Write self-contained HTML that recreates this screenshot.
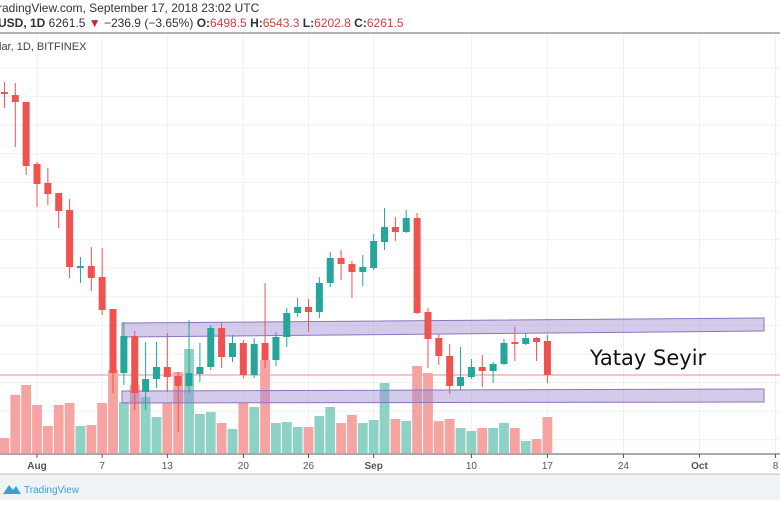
<!DOCTYPE html>
<html><head><meta charset="utf-8"><style>
body{margin:0;width:780px;height:500px;overflow:hidden;background:#fff;font-family:"Liberation Sans",sans-serif}
</style></head><body>
<svg id="c" width="780" height="500" xmlns="http://www.w3.org/2000/svg">
<rect x="0" y="0" width="780" height="500" fill="#fff"/>
<g id="grid"></g>
<line x1="0" y1="375" x2="780" y2="375" stroke="#f28a8a" stroke-width="1"/>
<g id="vol"></g>
<polygon points="122,323 764,318 764,331 122,337" fill="rgba(160,140,210,0.45)" stroke="#8c74bf" stroke-width="1"/>
<polygon points="122,391 764,389 764,402 122,403" fill="rgba(160,140,210,0.45)" stroke="#8c74bf" stroke-width="1"/>
<g id="candles"></g>
<text x="590" y="365" font-size="21" fill="#111" font-family="'DejaVu Sans','Liberation Sans',sans-serif">Yatay Seyir</text>
<rect x="0" y="0" width="780" height="32" fill="#fff"/>
<text x="-2" y="12" font-size="12" fill="#333">radingView.com, September 17, 2018 23:02 UTC</text>
<text x="-2" y="27" font-size="12" fill="#333"><tspan font-weight="bold">USD, 1D</tspan> 6261.5 <tspan fill="#c62828">▼</tspan> −236.9 (−3.65%) <tspan font-weight="bold">O:</tspan><tspan fill="#d04040">6498.5</tspan> <tspan font-weight="bold">H:</tspan><tspan fill="#d04040">6543.3</tspan> <tspan font-weight="bold">L:</tspan><tspan fill="#d04040">6202.8</tspan> <tspan font-weight="bold">C:</tspan><tspan fill="#d04040">6261.5</tspan></text>
<line x1="0" y1="33" x2="780" y2="33" stroke="#999" stroke-width="1.5"/>
<text x="-1" y="50" font-size="11" fill="#444">lar, 1D, BITFINEX</text>
<line x1="0" y1="454" x2="780" y2="454" stroke="#555" stroke-width="1"/>
<g id="xaxis"></g>
<rect x="0" y="474" width="780" height="26" fill="#f0f3f6"/>
<line x1="0" y1="474" x2="780" y2="474" stroke="#bbb"/>
<path d="M3,494 L9,485 L13,490 L16,486 L21,494 Z" fill="#3d9fd8"/>
<text x="24" y="493" font-size="10" fill="#3d9fd8">TradingView</text>
</svg>
<script>
// days from Aug 1 (0 = Aug 1)
const days=[-3,-2,-1,0,1,2,3,4,5,6,7,8,9,10,11,12,13,14,15,16,17,18,19,20,21,22,23,24,25,26,27,28,29,30,31,32,33,34,35,36,37,38,39,40,41,42,43,44,45,46,47];
const opens=[8241,8220,8171,7737,7604,7534,7415,7009,7023,6946,6722,6274,6533,6141,6232,6316,6253,6183,6267,6316,6589,6386,6484,6260,6484,6365,6526,6694,6736,6701,6904,7079,7037,6981,7009,7191,7296,7261,7359,6701,6519,6393,6183,6246,6316,6288,6337,6491,6477,6519,6498];
const highs=[8311,8304,8171,7751,7709,7534,7492,7086,7156,7149,6722,6631,6568,6491,6491,6554,6281,6645,6484,6610,6624,6540,6505,6519,6904,6561,6729,6799,6792,6946,7121,7135,7058,7100,7247,7429,7366,7415,7394,6729,6547,6477,6456,6372,6400,6351,6512,6596,6554,6526,6540];
const lows=[8129,7856,7660,7436,7450,7289,6939,6904,6848,6680,6134,6190,6015,6015,6169,6141,5861,6134,6211,6295,6309,6351,6239,6239,6309,6323,6456,6666,6561,6659,6876,6925,6799,6883,6995,7135,7198,7254,6687,6309,6330,6127,6155,6232,6176,6204,6330,6358,6470,6358,6204];
const closes=[8227,8171,7723,7597,7527,7408,7016,7023,6939,6715,6274,6533,6134,6232,6316,6246,6183,6274,6316,6589,6386,6484,6260,6477,6365,6526,6694,6736,6701,6904,7079,7037,6981,7016,7198,7296,7261,7359,6694,6512,6393,6183,6246,6316,6288,6337,6484,6477,6519,6491,6260];
const volumes=[15,58,68,48,27,48,50,27,28,50,83,51,68,56,36,50,81,104,39,41,30,24,50,46,93,30,31,26,26,37,46,30,38,30,33,70,34,32,87,80,32,34,25,22,25,25,30,25,12,14,36];
const xTicks=[0,6,12,19,25,31,40,47,54,61,68];
const xLabels=["Aug","7","13","20","26","Sep","10","17","24","Oct","8"];
const boldLabels=["Aug","Sep","Oct"];
const NS="http://www.w3.org/2000/svg";
const xs=d=>37+d*10.86;
const ys=p=>375-(p-6260)/7;
const vs=v=>453-v;
function mk(t,a,parent){const e=document.createElementNS(NS,t);for(const k in a)e.setAttribute(k,a[k]);parent.appendChild(e);return e;}
const grid=document.getElementById('grid');
for(let y=68;y<454;y+=28.6){const l=mk('line',{x1:0,x2:780,y1:y,y2:y,stroke:'#eef0f3','stroke-width':1},grid);

}
const ax=document.getElementById('xaxis');
xTicks.forEach((d,i)=>{const x=xs(d);
const g=mk('line',{x1:x,x2:x,y1:33,y2:454,stroke:'#eef0f3'},grid);


const t=mk('line',{x1:x,x2:x,y1:454,y2:458,stroke:'#555'},ax);


const lb=mk('text',{x:x,y:469,'font-size':10,fill:'#555','text-anchor':'middle','font-weight':boldLabels.includes(xLabels[i])?'bold':'normal'},ax);
lb.textContent=xLabels[i];

});
const vg=document.getElementById('vol'),cg=document.getElementById('candles');
days.forEach((d,i)=>{const x=xs(d);const up=closes[i]>=opens[i];
const vb=mk('rect',{x:x-4.9,y:vs(volumes[i]),width:9.8,height:volumes[i],fill:up?'#8ed2c6':'#f5a4a2'},vg);


const col=up?'#26a69a':'#ef5350';
const w=mk('line',{x1:x,x2:x,y1:ys(highs[i]),y2:ys(lows[i]),stroke:col,'stroke-width':1},cg);


const t=ys(Math.max(opens[i],closes[i])),b=ys(Math.min(opens[i],closes[i]));
const r=mk('rect',{x:x-3.5,y:t,width:7,height:Math.max(1.5,b-t),fill:col},cg);

});
</script>
</body></html>
